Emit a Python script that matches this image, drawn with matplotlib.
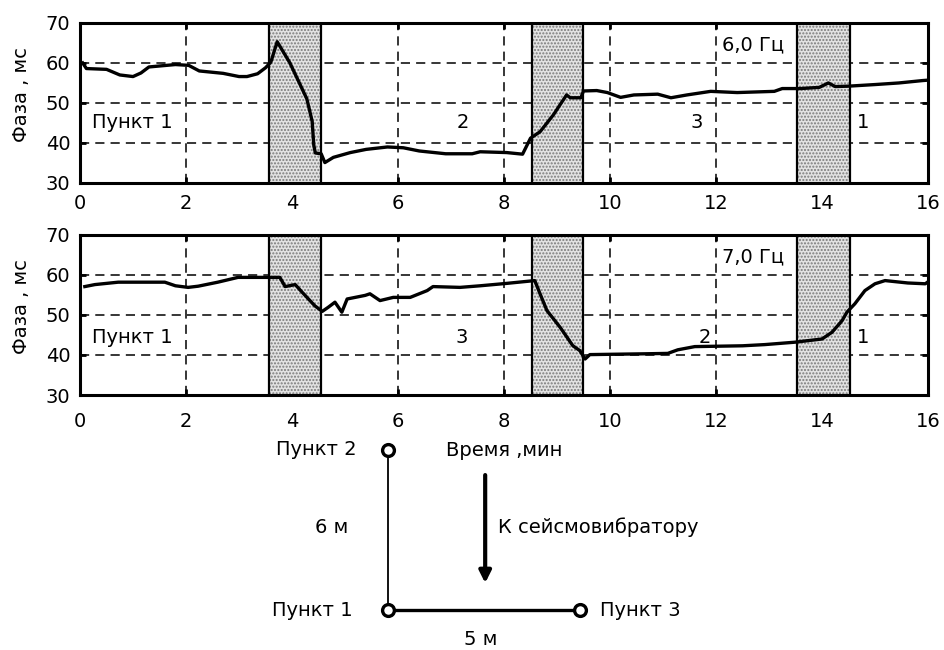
import matplotlib.pyplot as plt

plt.rcParams['font.family'] = ['DejaVu Sans']
plt.rcParams['hatch.linewidth'] = 1.0

# phase records, 6.0 Hz and 7.0 Hz (time in minutes, phase in ms)
t_6hz = [0.05, 0.12, 0.5, 0.75, 1.0, 1.15, 1.3, 1.8, 2.05, 2.25, 2.7, 3.0, 3.15,
         3.35, 3.5, 3.6, 3.72, 3.96, 4.12, 4.28, 4.38, 4.41, 4.44, 4.55, 4.62,
         4.78, 5.1, 5.4, 5.8, 6.1, 6.4, 6.9, 7.4, 7.55, 8.05, 8.35, 8.5, 8.68,
         8.93, 9.18, 9.25, 9.45, 9.5, 9.75, 9.95, 10.2, 10.45, 10.9, 11.15,
         11.45, 11.9, 12.4, 13.1, 13.25, 13.6, 13.95, 14.12, 14.25, 14.5, 15.0,
         15.45, 15.9, 16.0]
phase_6hz = [60.0, 58.6, 58.4, 57.0, 56.6, 57.5, 59.0, 59.6, 59.4, 58.0, 57.4,
             56.6, 56.6, 57.3, 58.8, 60.2, 65.3, 60.0, 55.5, 51.0, 45.4, 39.5,
             37.5, 37.3, 35.1, 36.4, 37.6, 38.4, 39.0, 38.8, 38.0, 37.3, 37.3,
             37.8, 37.6, 37.2, 41.2, 42.8, 47.0, 52.0, 51.3, 51.3, 53.0, 53.1,
             52.6, 51.4, 52.0, 52.2, 51.3, 52.0, 52.9, 52.6, 52.9, 53.6, 53.6,
             53.9, 55.0, 54.1, 54.2, 54.6, 55.0, 55.6, 55.7]

t_7hz = [0.09, 0.28, 0.72, 1.6, 1.8, 2.04, 2.23, 2.6, 2.98, 3.77, 3.87, 4.06,
         4.19, 4.43, 4.57, 4.68, 4.81, 4.94, 5.04, 5.38, 5.47, 5.66, 5.91, 6.23,
         6.55, 6.66, 7.17, 7.55, 8.05, 8.58, 8.68, 8.81, 9.06, 9.3, 9.43, 9.53,
         9.62, 10.66, 11.09, 11.28, 11.6, 12.5, 12.92, 13.49, 14.0, 14.19,
         14.38, 14.47, 14.62, 14.81, 15.0, 15.19, 15.62, 15.95, 16.0]
phase_7hz = [57.1, 57.6, 58.2, 58.2, 57.3, 56.9, 57.2, 58.2, 59.4, 59.4, 57.1,
             57.6, 55.7, 52.3, 50.9, 51.9, 53.2, 50.7, 54.0, 54.9, 55.3, 53.6,
             54.4, 54.4, 56.1, 57.1, 56.9, 57.3, 57.9, 58.6, 55.3, 51.1, 46.9,
             42.3, 41.1, 39.0, 40.1, 40.3, 40.4, 41.3, 42.1, 42.3, 42.6, 43.2,
             44.0, 45.7, 48.6, 50.7, 52.8, 56.1, 57.8, 58.6, 58.0, 57.8, 58.3]

# transitions between measurement points (shaded)
bands = [(3.57, 4.55), (8.52, 9.49), (13.53, 14.52)]

x_ticks = list(range(0, 17, 2))
y_ticks = [30, 40, 50, 60, 70]

# point names: (text, time, phase, alignment)
points_6hz = [('Пункт 1', 0.23, 45.0, 'left'), ('2', 7.22, 45.0, 'center'),
              ('3', 11.64, 45.0, 'center'), ('1', 14.77, 45.0, 'center')]
points_7hz = [('Пункт 1', 0.23, 44.4, 'left'), ('3', 7.2, 44.4, 'center'),
              ('2', 11.78, 44.4, 'center'), ('1', 14.77, 44.4, 'center')]

# layout of the receivers in metres
site_names = ['Пункт 1', 'Пункт 2', 'Пункт 3']
site_x = [0, 0, 5]
site_y = [0, 6, 0]

FS = 14


def draw_panel(ax, t, phase, points, freq_text, xpad):
    ax.set_xlim(0, 16)
    ax.set_ylim(30, 70)
    ax.set_xticks(x_ticks)
    ax.set_yticks(y_ticks)
    ax.grid(True, color='black', linestyle=(0, (6, 4)), linewidth=1.1, zorder=1)
    ax.set_axisbelow(True)
    for a, b in bands:
        ax.axvspan(a, b, facecolor='#e2e2e2', edgecolor='#7a7a7a', hatch='.....',
                   linewidth=0, zorder=2)
        ax.axvline(a, color='black', linewidth=1.6, zorder=3)
        ax.axvline(b, color='black', linewidth=1.6, zorder=3)
    ax.plot(t, phase, color='black', linewidth=2.4, zorder=4)
    for name, x, y, ha in points:
        ax.text(x, y, name, ha=ha, va='center', fontsize=FS, zorder=5)
    ax.text(12.12, 64.5, freq_text, ha='left', va='center', fontsize=FS, zorder=5)
    for s in ax.spines.values():
        s.set_linewidth(2.2)
    ax.tick_params(direction='in', length=4, width=2, top=True, right=True,
                   labelsize=FS)
    ax.tick_params(axis='x', pad=xpad)
    ax.tick_params(axis='y', pad=7)
    ax.set_ylabel('Фаза , мс', fontsize=FS)
    ax.yaxis.set_label_coords(-0.058, 0.55)


fig = plt.figure(figsize=(9.45, 6.5), dpi=100)

ax1 = fig.add_axes([0.0847, 0.7185, 0.8973, 0.2462])
draw_panel(ax1, t_6hz, phase_6hz, points_6hz, '6,0 Гц', 8)

ax2 = fig.add_axes([0.0847, 0.3923, 0.8973, 0.2462])
draw_panel(ax2, t_7hz, phase_7hz, points_7hz, '7,0 Гц', 12)
ax2.set_xlabel('Время ,мин', fontsize=FS)
ax2.xaxis.set_label_coords(0.5, -0.344)
ax2.xaxis.label.set_va('center')

# sketch of the receiver layout
ax3 = fig.add_axes([0.4106, 0.0615, 0.2032, 0.2462])
ax3.set_xlim(0, 5)
ax3.set_ylim(0, 6)
ax3.axis('off')
p1, p2, p3 = [(x, y) for x, y in zip(site_x, site_y)]
ax3.plot([p2[0], p1[0]], [p2[1], p1[1]], color='black', linewidth=1.3, clip_on=False)
ax3.plot([p1[0], p3[0]], [p1[1], p3[1]], color='black', linewidth=2.4, clip_on=False)
ax3.plot(site_x, site_y, 'o', color='black', markerfacecolor='white', markersize=8.5,
         markeredgewidth=2.4, clip_on=False, zorder=5)
ax3.text(p1[0] - 0.91, p1[1], site_names[0], ha='right', va='center', fontsize=FS)
ax3.text(p2[0] - 0.81, p2[1], site_names[1], ha='right', va='center', fontsize=FS)
ax3.text(p3[0] + 0.52, p3[1], site_names[2], ha='left', va='center', fontsize=FS)
ax3.text(-1.46, 3.11, f'{site_y[1] - site_y[0]} м', ha='center', va='center',
         fontsize=FS)
ax3.text(2.4, -1.12, f'{site_x[2] - site_x[0]} м', ha='center', va='center',
         fontsize=FS)
ax3.annotate('', xy=(2.53, 1.01), xytext=(2.53, 5.06),
             arrowprops=dict(arrowstyle='-|>,head_length=0.7,head_width=0.35',
                             color='black', linewidth=3, shrinkA=0, shrinkB=0))
ax3.text(2.86, 3.11, 'К сейсмовибратору', ha='left', va='center', fontsize=FS)

fig.savefig('out.png', dpi=100)
